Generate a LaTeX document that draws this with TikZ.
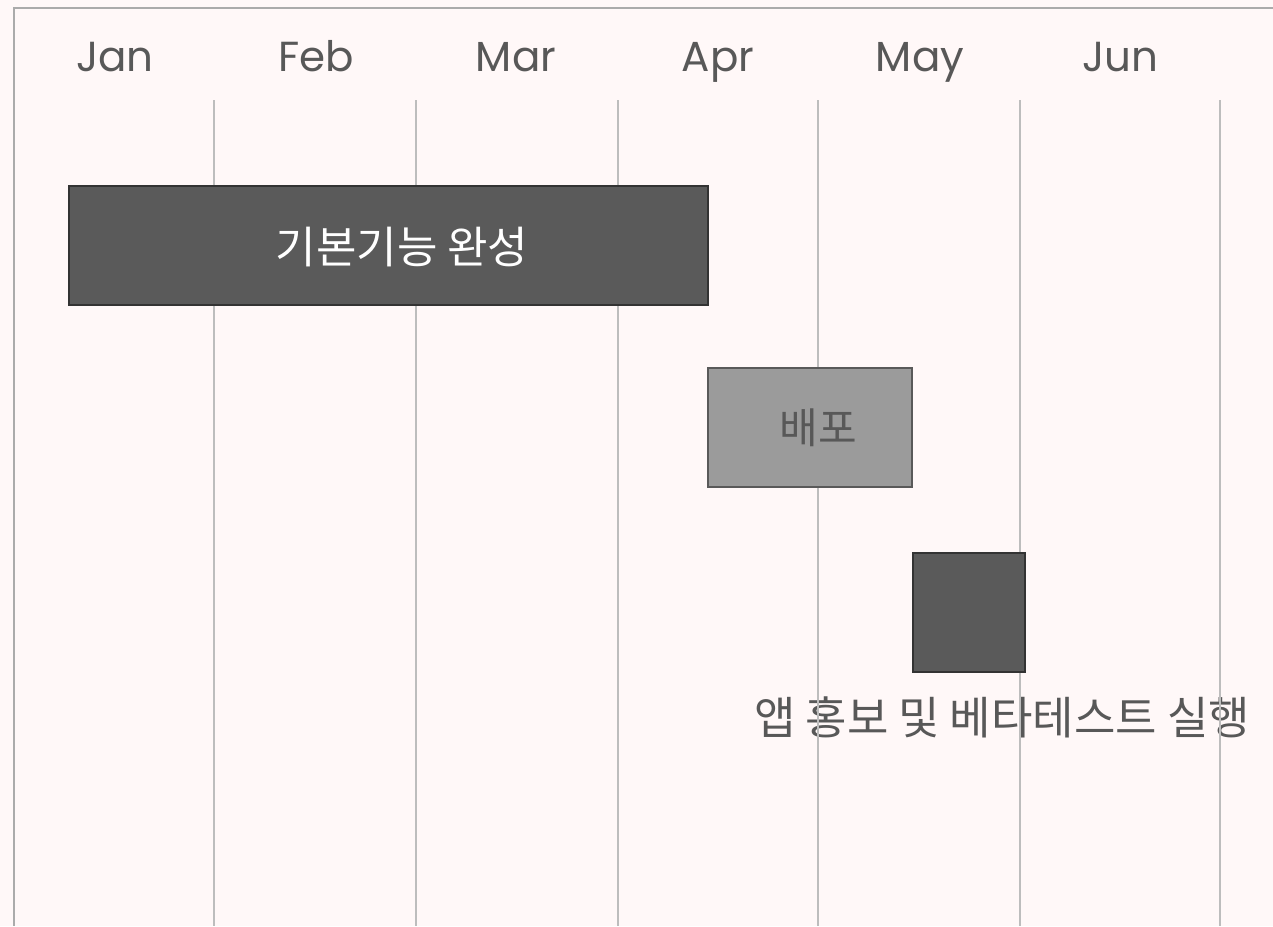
\documentclass[tikz,border=0pt]{standalone}
\usepackage{fontspec}
\setmainfont{Poppins}
\newfontfamily\kor{Noto Sans CJK KR}
\definecolor{bgpink}{HTML}{FFF8F8}
\definecolor{framegray}{HTML}{ABABAB}
\definecolor{gridgray}{HTML}{BDBDBD}
\definecolor{textgray}{HTML}{585858}
\definecolor{bardark}{HTML}{5A5A5A}
\definecolor{barlight}{HTML}{9B9B9B}
\tikzset{
  month/.style={text=textgray, anchor=base, font=\fontsize{42}{48}\selectfont},
  darkbar/.style={draw=black!80, line width=1.5pt, fill=bardark, minimum height=119pt, inner sep=0pt},
  lightbar/.style={draw=black!65, line width=1.5pt, fill=barlight, minimum height=119pt, inner sep=0pt},
  bartext/.style={font=\kor\fontsize{44}{50}\selectfont},
  tasklabel/.style={text=textgray, font=\kor\fontsize{45}{52}\selectfont},
  gridline/.style={gridgray, line width=1.2pt},
}
\begin{document}
\begin{tikzpicture}[x=1pt,y=-1pt]

\fill[bgpink] (0,0) rectangle (1273,926);
\useasboundingbox (0,0) rectangle (1273,926);

% frame
\draw[framegray, line width=1.8pt] (14,926) -- (14,8) -- (1273,8);

% months
\node[month] (jan) at (115,71) {Jan};
\node[month] (feb) at (316,71) {Feb};
\node[month] (mar) at (516,71) {Mar};
\node[month] (apr) at (718,71) {Apr};
\node[month] (may) at (920,71) {May};
\node[month] (jun) at (1120,71) {Jun};

\node[tasklabel] (promo) at (1002,717) {앱 홍보 및 베타테스트 실행};

% grid
\foreach \gx in {214,416,618,818,1020,1220}
  \draw[gridline] (\gx,100) -- (\gx,926);

% tasks
\node[darkbar, minimum width=639pt] (basic) at (388.5,245.5) {};
\node[bartext, text=white] (basictext) at (402,247) {기본기능 완성};
\node[lightbar, minimum width=204pt] (deploy) at (810,427.5) {};
\node[bartext, text=textgray, font=\kor\fontsize{42}{48}\selectfont] (deploytext) at (818,428) {배포};
\node[darkbar, minimum width=112pt] (beta) at (969,612.5) {};

\end{tikzpicture}
\end{document}
